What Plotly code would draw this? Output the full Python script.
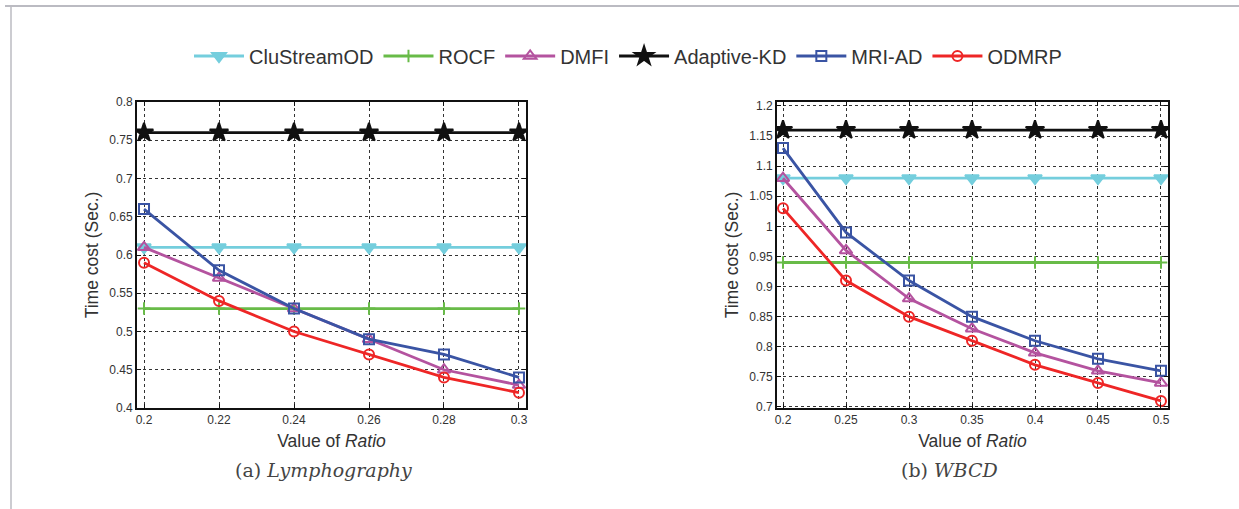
import plotly.graph_objects as go

# ---------------- data ----------------
series_names = ["CluStreamOD", "ROCF", "DMFI", "Adaptive-KD", "MRI-AD", "ODMRP"]

ratio_a = [0.2, 0.22, 0.24, 0.26, 0.28, 0.3]
ratio_a_labels = ["0.2", "0.22", "0.24", "0.26", "0.28", "0.3"]
clustream_a = [0.61, 0.61, 0.61, 0.61, 0.61, 0.61]
rocf_a = [0.53, 0.53, 0.53, 0.53, 0.53, 0.53]
dmfi_a = [0.61, 0.57, 0.53, 0.49, 0.45, 0.43]
adaptive_a = [0.76, 0.76, 0.76, 0.76, 0.76, 0.76]
mriad_a = [0.66, 0.58, 0.53, 0.49, 0.47, 0.44]
odmrp_a = [0.59, 0.54, 0.50, 0.47, 0.44, 0.42]
ytick_a = [0.4, 0.45, 0.5, 0.55, 0.6, 0.65, 0.7, 0.75, 0.8]
ytick_a_labels = ["0.4", "0.45", "0.5", "0.55", "0.6", "0.65", "0.7", "0.75", "0.8"]

ratio_b = [0.2, 0.25, 0.3, 0.35, 0.4, 0.45, 0.5]
ratio_b_labels = ["0.2", "0.25", "0.3", "0.35", "0.4", "0.45", "0.5"]
clustream_b = [1.08, 1.08, 1.08, 1.08, 1.08, 1.08, 1.08]
rocf_b = [0.94, 0.94, 0.94, 0.94, 0.94, 0.94, 0.94]
dmfi_b = [1.08, 0.96, 0.88, 0.83, 0.79, 0.76, 0.74]
adaptive_b = [1.16, 1.16, 1.16, 1.16, 1.16, 1.16, 1.16]
mriad_b = [1.13, 0.99, 0.91, 0.85, 0.81, 0.78, 0.76]
odmrp_b = [1.03, 0.91, 0.85, 0.81, 0.77, 0.74, 0.71]
ytick_b = [0.7, 0.75, 0.8, 0.85, 0.9, 0.95, 1.0, 1.05, 1.1, 1.15, 1.2]
ytick_b_labels = ["0.7", "0.75", "0.8", "0.85", "0.9", "0.95", "1", "1.05", "1.1", "1.15", "1.2"]

captions = ["(a) <i>Lymphography</i>", "(b) <i>WBCD</i>"]

# ---------------- styles ----------------
colors = ["#74CEDD", "#68BB48", "#B4539F", "#111111", "#3A54A4", "#EE2626"]
symbols = ["triangle-down", "cross-thin", "triangle-up-open", "star", "square-open", "circle-open"]
sizes = [12, 9, 11, 14, 10, 10]

W, H = 1239, 509
def px_x(p): return p / W
def px_y(p): return (H - p) / H

fig = go.Figure()

data_a = [clustream_a, rocf_a, dmfi_a, adaptive_a, mriad_a, odmrp_a]
data_b = [clustream_b, rocf_b, dmfi_b, adaptive_b, mriad_b, odmrp_b]

for i, name in enumerate(series_names):
    mk = dict(symbol=symbols[i], size=sizes[i], color=colors[i],
              line=dict(width=2, color=colors[i]))
    fig.add_trace(go.Scatter(x=ratio_a, y=data_a[i], name=name, mode="lines+markers",
                             line=dict(color=colors[i], width=2.8), marker=mk,
                             xaxis="x", yaxis="y", showlegend=True, legendgroup=name))
for i, name in enumerate(series_names):
    mk = dict(symbol=symbols[i], size=sizes[i], color=colors[i],
              line=dict(width=2, color=colors[i]))
    fig.add_trace(go.Scatter(x=ratio_b, y=data_b[i], name=name, mode="lines+markers",
                             line=dict(color=colors[i], width=2.8), marker=mk,
                             xaxis="x2", yaxis="y2", showlegend=False, legendgroup=name))

tickfont = dict(family="Liberation Sans, Arial", size=12, color="#333333")
titlefont = dict(family="Liberation Sans, Arial", size=17.5, color="#333333")
axis_common = dict(showline=True, linecolor="#111111", linewidth=1.8, mirror="ticks",
                   ticks="inside", ticklen=4, tickcolor="#111111",
                   showgrid=True, gridcolor="#333333", gridwidth=1, griddash="dot",
                   zeroline=False, tickfont=tickfont, automargin=False)

fig.update_layout(
    width=W, height=H,
    margin=dict(l=0, r=0, t=0, b=0),
    paper_bgcolor="white", plot_bgcolor="white",
    xaxis=dict(domain=[px_x(137), px_x(526)], anchor="y",
               range=[0.19813, 0.30187], tickmode="array",
               tickvals=ratio_a, ticktext=ratio_a_labels,
               title=dict(text="Value of <i>Ratio</i>", font=titlefont, standoff=8),
               **axis_common),
    yaxis=dict(domain=[px_y(408), px_y(102)], anchor="x",
               range=[0.4, 0.8], tickmode="array",
               tickvals=ytick_a, ticktext=ytick_a_labels,
               title=dict(text="Time cost (Sec.)", font=titlefont, standoff=6),
               **axis_common),
    xaxis2=dict(domain=[px_x(777), px_x(1168)], anchor="y2",
                range=[0.19524, 0.50556], tickmode="array",
                tickvals=ratio_b, ticktext=ratio_b_labels,
                title=dict(text="Value of <i>Ratio</i>", font=titlefont, standoff=8),
                **axis_common),
    yaxis2=dict(domain=[px_y(408), px_y(102)], anchor="x2",
                range=[0.6983, 1.2066], tickmode="array",
                tickvals=ytick_b, ticktext=ytick_b_labels,
                title=dict(text="Time cost (Sec.)", font=titlefont, standoff=6),
                **axis_common),
    legend=dict(orientation="h", x=px_x(628), xanchor="center",
                y=px_y(56), yanchor="middle",
                font=dict(family="Liberation Sans, Arial", size=20, color="#333333"),
                itemwidth=50, bgcolor="rgba(0,0,0,0)"),
    showlegend=True,
)

fig.add_annotation(x=px_x(323), y=px_y(470), xref="paper", yref="paper",
                   xanchor="center", yanchor="middle",
                   text=captions[0], showarrow=False,
                   font=dict(family="DejaVu Serif", size=19, color="#444444"))
fig.add_annotation(x=px_x(949), y=px_y(470), xref="paper", yref="paper",
                   xanchor="center", yanchor="middle",
                   text=captions[1], showarrow=False,
                   font=dict(family="DejaVu Serif", size=19, color="#444444"))

# outer frame lines of the original figure panel
fig.add_shape(type="line", xref="paper", yref="paper",
              x0=px_x(5), x1=1, y0=px_y(6), y1=px_y(6),
              line=dict(color="#BBBBC2", width=2))
fig.add_shape(type="line", xref="paper", yref="paper",
              x0=px_x(11), x1=px_x(11), y0=px_y(6), y1=0,
              line=dict(color="#BBBBC2", width=1.5))

fig.write_html("out.html",
               config={"displayModeBar": False},
               post_script="document.body.style.margin='0';document.body.style.overflow='hidden';")
